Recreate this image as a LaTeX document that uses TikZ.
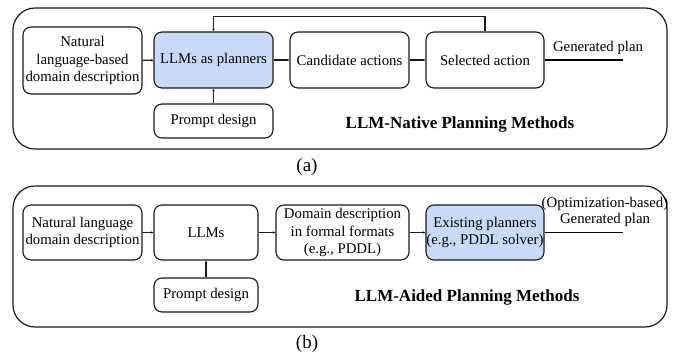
\documentclass[tikz,border=0pt]{standalone}
\usepackage{fontspec}
\setmainfont{Liberation Serif}
\usetikzlibrary{arrows.meta}
\definecolor{planblue}{HTML}{C9DAF8}
\definecolor{edge}{HTML}{1A1A1A}
\begin{document}
\begin{tikzpicture}[x=1pt,y=-1pt,
  panel/.style={draw=edge, line width=1.2pt, rounded corners=22pt},
  box/.style={draw=edge, line width=1.1pt, rounded corners=8pt, align=center,
    inner sep=0pt, font=\fontsize{14.8}{17.5}\selectfont},
  hl/.style={box, fill=planblue},
  link/.style={draw=edge, line width=1.3pt, -{Stealth[length=2.5pt,width=2.5pt]}},
  planline/.style={draw=black, line width=1.8pt},
  lbl/.style={align=center, inner sep=0pt, font=\fontsize{14.8}{16}\selectfont},
  title/.style={inner sep=0pt, font=\fontsize{17}{20}\selectfont\bfseries},
  caption/.style={inner sep=0pt, font=\fontsize{19}{22}\selectfont}]
\useasboundingbox (0,0) rectangle (674,354);

% ---------- (a) LLM-native planning ----------
\draw[panel] (13,8) rectangle (667,149);
\node[box, minimum width=119pt, minimum height=67pt] (natA) at (82.5,60.5)
  {Natural\\language-based\\domain description};
\node[hl, minimum width=119pt, minimum height=56pt] (llmA) at (213.5,60) {LLMs as planners};
\node[box, minimum width=119pt, minimum height=56pt] (candA) at (349.5,60) {Candidate actions};
\node[box, minimum width=118pt, minimum height=56pt] (selA) at (485,60) {Selected action};
\node[box, minimum width=119pt, minimum height=34pt] (promptA) at (213.5,121) {Prompt design};
\coordinate (endA) at (623,60);
\node[lbl] (genA) at (598,48) {Generated plan};
\node[title] (titleA) at (460,124) {LLM-Native Planning Methods};
\node[caption] (capA) at (307,167) {(a)};

\draw[link] (natA) -- (llmA);
\draw[link] (llmA) -- (candA);
\draw[link] (candA) -- (selA);
\draw[link] (promptA) -- (llmA);
\draw[link] (selA.north) -- ++(0,-15) -| (llmA.north);
\draw[planline] (selA) -- (endA);

% ---------- (b) LLM-aided planning ----------
\draw[panel] (13,186) rectangle (667,327);
\node[box, minimum width=119pt, minimum height=55pt] (natB) at (82.5,232.5)
  {Natural language\\domain description};
\node[box, minimum width=104pt, minimum height=55pt] (llmB) at (206,232.5) {LLMs};
\node[box, minimum width=133pt, minimum height=55pt] (domB) at (342.5,232.5)
  {Domain description\\in formal formats\\(e.g., PDDL)};
\node[hl, minimum width=118pt, minimum height=55pt] (exB) at (485,232.5)
  {Existing planners\\(e.g., PDDL solver)};
\node[box, minimum width=104pt, minimum height=34pt] (promptB) at (206,295) {Prompt design};
\coordinate (endB) at (623,232.5);
\node[lbl] (optB) at (605,204) {(Optimization-based)};
\node[lbl] (genB) at (605,220) {Generated plan};
\node[title] (titleB) at (467,297) {LLM-Aided Planning Methods};
\node[caption] (capB) at (307,344) {(b)};

\draw[link] (natB) -- (llmB);
\draw[link] (llmB) -- (domB);
\draw[link] (domB) -- (exB);
\draw[link] (promptB) -- (llmB);
\draw[planline] (exB) -- (endB);
\end{tikzpicture}
\end{document}
